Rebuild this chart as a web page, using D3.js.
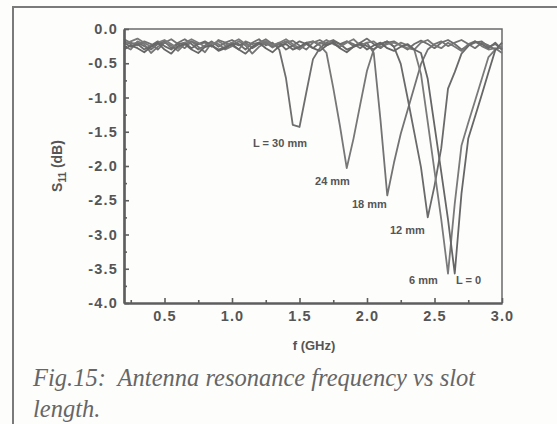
<!DOCTYPE html>
<html>
<head>
<meta charset="utf-8">
<script src="https://cdn.jsdelivr.net/npm/d3@7/dist/d3.min.js"></script>
<style>
  html, body { margin: 0; padding: 0; background: #fdfdfc; }
  svg { display: block; }
</style>
</head>
<body>
<svg id="chart" width="557" height="424"></svg>
<script>
// ---- data ----
const freq = [0.20,0.25,0.30,0.35,0.40,0.45,0.50,0.55,0.60,0.65,0.70,0.75,0.80,0.85,0.90,0.95,
  1.00,1.05,1.10,1.15,1.20,1.25,1.30,1.35,1.40,1.45,1.50,1.55,1.60,1.65,1.70,1.75,1.80,1.85,1.90,1.95,
  2.00,2.05,2.10,2.15,2.20,2.25,2.30,2.35,2.40,2.45,2.50,2.55,2.60,2.65,2.70,2.75,2.80,2.85,2.90,2.95,3.00];

const sL30 = [-0.18,-0.22,-0.2,-0.25,-0.3,-0.22,-0.18,-0.28,-0.2,-0.15,-0.22,-0.3,-0.24,-0.18,-0.26,-0.2,
  -0.16,-0.22,-0.3,-0.2,-0.15,-0.24,-0.2,
  -0.3,-0.72,-1.40,-1.43,-0.93,-0.44,-0.28,
  -0.2,-0.16,-0.22,-0.18,-0.25,-0.2,-0.14,-0.22,-0.28,-0.2,-0.18,-0.24,-0.3,-0.22,-0.17,-0.22,-0.28,
  -0.2,-0.16,-0.22,-0.3,-0.24,-0.2,-0.18,-0.26,-0.22,-0.3];

const sL24 = [-0.25,-0.3,-0.18,-0.22,-0.35,-0.26,-0.2,-0.24,-0.32,-0.22,-0.18,-0.26,-0.34,-0.2,-0.22,
  -0.3,-0.25,-0.18,-0.24,-0.36,-0.26,-0.2,-0.27,-0.22,-0.18,-0.25,-0.3,-0.22,-0.18,-0.24,
  -0.35,-0.86,-1.42,-2.03,-1.6,-1.1,-0.61,-0.3,
  -0.22,-0.18,-0.26,-0.2,-0.24,-0.3,-0.2,-0.16,-0.24,-0.28,-0.2,-0.26,-0.32,-0.22,-0.18,-0.25,-0.3,-0.28,-0.35];

const sL18 = [-0.15,-0.2,-0.24,-0.18,-0.22,-0.3,-0.2,-0.15,-0.22,-0.28,
  -0.18,-0.22,-0.2,-0.26,-0.16,-0.2,-0.24,-0.3,-0.18,-0.22,
  -0.2,-0.15,-0.22,-0.26,-0.2,-0.17,-0.24,-0.3,-0.2,-0.16,
  -0.22,-0.2,-0.26,-0.18,-0.22,-0.28,-0.2,
  -0.35,-1.33,-2.43,-1.95,-1.53,-1.19,-0.85,-0.51,-0.3,
  -0.22,-0.18,-0.25,-0.2,-0.16,-0.22,-0.28,-0.2,-0.24,-0.3,-0.26];

const sL12 = [-0.2,-0.26,-0.22,-0.3,-0.24,-0.18,-0.25,-0.3,-0.22,-0.2,
  -0.28,-0.22,-0.18,-0.24,-0.3,-0.26,-0.2,-0.24,-0.2,-0.28,
  -0.22,-0.18,-0.25,-0.2,-0.3,-0.24,-0.18,-0.22,-0.28,-0.2,
  -0.24,-0.18,-0.22,-0.3,-0.26,-0.2,-0.25,-0.3,-0.22,-0.18,
  -0.26,
  -0.51,-1.0,-1.51,-2.02,-2.75,-2.29,-1.74,-0.87,-0.63,-0.36,
  -0.25,-0.18,-0.22,-0.28,-0.2,-0.3];

const sL6 = [-0.22,-0.18,-0.14,-0.2,-0.26,-0.2,-0.16,-0.22,-0.28,-0.2,
  -0.15,-0.2,-0.26,-0.22,-0.18,-0.24,-0.2,-0.15,-0.22,-0.26,
  -0.2,-0.18,-0.24,-0.2,-0.15,-0.22,-0.28,-0.2,-0.18,-0.22,
  -0.16,-0.22,-0.26,-0.2,-0.15,-0.24,-0.2,-0.18,-0.26,-0.22,
  -0.2,-0.24,-0.28,
  -0.3,-0.66,-1.36,-2.07,-2.78,-3.57,-2.55,-1.7,-1.37,-1.05,-0.73,-0.41,-0.3,-0.25];

const sL0 = [-0.3,-0.24,-0.28,-0.34,-0.26,-0.2,-0.3,-0.36,-0.25,-0.22,
  -0.3,-0.35,-0.26,-0.24,-0.32,-0.28,-0.22,-0.3,-0.36,-0.26,
  -0.2,-0.28,-0.34,-0.25,-0.22,-0.3,-0.26,-0.2,-0.28,-0.32,
  -0.24,-0.2,-0.28,-0.34,-0.26,-0.22,-0.3,-0.24,-0.2,-0.28,
  -0.32,-0.26,-0.22,-0.3,
  -0.35,-0.73,-1.41,-2.09,-2.78,-3.57,-2.4,-1.6,-1.28,-0.96,-0.63,-0.31,-0.2];

const seriesNames = ["L = 30 mm", "24 mm", "18 mm", "12 mm", "6 mm", "L = 0"];
const seriesValues = [sL30, sL24, sL18, sL12, sL6, sL0];

const xTicks = [0.5, 1.0, 1.5, 2.0, 2.5, 3.0];
const xMinor = [0.25, 0.75, 1.25, 1.75, 2.25, 2.75];
const yTicks = [0.0, -0.5, -1.0, -1.5, -2.0, -2.5, -3.0, -3.5, -4.0];
const yMinor = [-0.25, -0.75, -1.25, -1.75, -2.25, -2.75, -3.25, -3.75];

// label anchor points in data units (f, S11)
const labelF = [1.156, 1.615, 1.889, 2.17, 2.311, 2.659];
const labelV = [-1.72, -2.28, -2.61, -2.99, -3.72, -3.72];

// ---- drawing ----
const svg = d3.select("#chart");
const W = 557, H = 424;
const m = { left: 124, right: 502, top: 29, bottom: 303 };
const ink = "#555";
const lineGray = ["#6e6e6e", "#777", "#737373", "#6a6a6a", "#7a7a7a", "#666"];
const fmt = d => d3.format(".1f")(d).replace("\u2212", "-");

svg.append("rect").attr("width", W).attr("height", H).attr("fill", "#fdfdfc");

// outer frame (top and left visible)
svg.append("path")
  .attr("d", `M13,${H} L13,7 L${W},7`)
  .attr("fill", "none").attr("stroke", "#7a7a7a").attr("stroke-width", 2);

const x = d3.scaleLinear().domain([0.2, 3.0]).range([m.left, m.right]);
const y = d3.scaleLinear().domain([-4, 0]).range([m.bottom, m.top]);

// plot box top/right
svg.append("path")
  .attr("d", `M${m.left},${m.top} L${m.right},${m.top} L${m.right},${m.bottom}`)
  .attr("fill", "none").attr("stroke", "#6a6a6a").attr("stroke-width", 1.5);

// curves
const line = d3.line().x((d, i) => x(freq[i])).y(d => y(d));
const g = svg.append("g");
seriesValues.forEach((vals, k) => {
  g.append("path")
    .datum(vals)
    .attr("d", line)
    .attr("fill", "none")
    .attr("stroke", lineGray[k])
    .attr("stroke-width", 1.8)
    .attr("stroke-linejoin", "round");
});

// axes
const xAxis = d3.axisBottom(x).tickValues(xTicks).tickFormat(fmt)
  .tickSizeInner(-5).tickSizeOuter(0).tickPadding(8);
const xg = svg.append("g").attr("transform", `translate(0,${m.bottom})`).call(xAxis);
const xAxisMinor = d3.axisBottom(x).tickValues(xMinor).tickFormat("").tickSizeInner(-3).tickSizeOuter(0);
const xgm = svg.append("g").attr("transform", `translate(0,${m.bottom})`).call(xAxisMinor);

const yAxis = d3.axisLeft(y).tickValues(yTicks).tickFormat(fmt)
  .tickSizeInner(-5).tickSizeOuter(0).tickPadding(6);
const yg = svg.append("g").attr("transform", `translate(${m.left},0)`).call(yAxis);
const yAxisMinor = d3.axisLeft(y).tickValues(yMinor).tickFormat("").tickSizeInner(-3).tickSizeOuter(0);
const ygm = svg.append("g").attr("transform", `translate(${m.left},0)`).call(yAxisMinor);

[xg, xgm, yg, ygm].forEach(a => {
  a.select(".domain").attr("stroke", "#5e5e5e").attr("stroke-width", 2.2);
  a.selectAll(".tick line").attr("stroke", "#5e5e5e").attr("stroke-width", 1.6);
  a.selectAll(".tick text")
    .attr("fill", ink)
    .style("font-family", "'Liberation Sans', Arial, sans-serif")
    .style("font-weight", "bold")
    .style("font-size", "14.5px")
    .style("letter-spacing", "1.2px");
});

// axis titles
svg.append("text")
  .attr("x", (m.left + m.right) / 2 + 1).attr("y", 350)
  .attr("text-anchor", "middle")
  .attr("fill", ink)
  .style("font-family", "'Liberation Sans', Arial, sans-serif")
  .style("font-weight", "bold").style("font-size", "13px")
  .text("f (GHz)");

const yl = svg.append("text")
  .attr("transform", `translate(62,${(m.top + m.bottom) / 2}) rotate(-90)`)
  .attr("text-anchor", "middle")
  .attr("fill", ink)
  .style("font-family", "'Liberation Sans', Arial, sans-serif")
  .style("font-weight", "bold").style("font-size", "14px");
yl.append("tspan").text("S");
yl.append("tspan").attr("dy", "4").style("font-size", "10px").text("11");
yl.append("tspan").attr("dy", "-4").text(" (dB)");

// curve labels
seriesNames.forEach((name, k) => {
  svg.append("text")
    .attr("x", x(labelF[k])).attr("y", y(labelV[k]))
    .attr("fill", ink)
    .style("font-family", "'Liberation Sans', Arial, sans-serif")
    .style("font-weight", "bold").style("font-size", "11px")
    .text(name);
});

// caption
const cap = svg.append("text")
  .attr("fill", "#666")
  .style("font-family", "'Liberation Serif', 'Times New Roman', serif")
  .style("font-style", "italic").style("font-size", "24.5px");
cap.append("tspan").attr("x", 33).attr("y", 386)
  .text("Fig.15:\u00a0 Antenna resonance frequency vs slot");
cap.append("tspan").attr("x", 33).attr("y", 417).text("length.");
</script>
</body>
</html>
